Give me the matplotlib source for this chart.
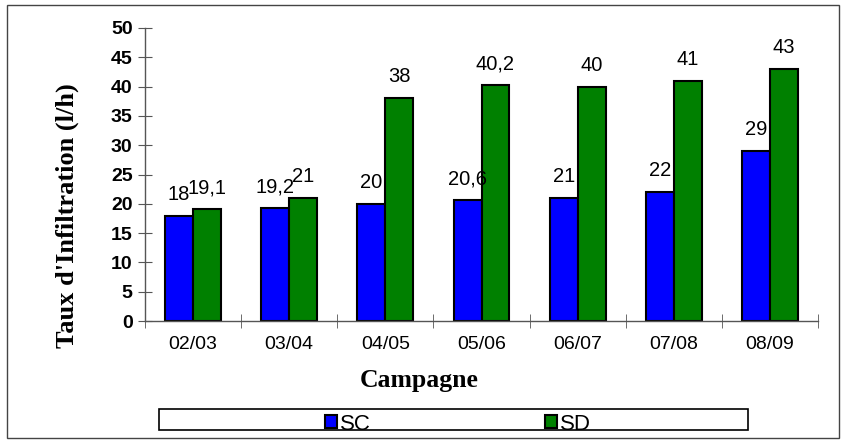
import matplotlib.pyplot as plt
import matplotlib.patches as mpatches
import numpy as np

# Data
campagnes = ["02/03", "03/04", "04/05", "05/06", "06/07", "07/08", "08/09"]
sc_values = [18, 19.2, 20, 20.6, 21, 22, 29]
sd_values = [19.1, 21, 38, 40.2, 40, 41, 43]
sc_labels = ["18", "19,2", "20", "20,6", "21", "22", "29"]
sd_labels = ["19,1", "21", "38", "40,2", "40", "41", "43"]

W, H = 846, 441
fig = plt.figure(figsize=(W / 100, H / 100), dpi=100)
ax = fig.add_axes([145 / W, 1 - 321 / H, (818 - 145) / W, (321 - 28) / H])

x = np.arange(len(campagnes))
bw = 0.29
sc_bars = ax.bar(x - bw / 2, sc_values, width=bw, color="#0000FF",
                 edgecolor="black", linewidth=1.5, label="SC")
sd_bars = ax.bar(x + bw / 2, sd_values, width=bw, color="#008000",
                 edgecolor="black", linewidth=1.5, label="SD")

# value labels above bars
for bars, labels in ((sc_bars, sc_labels), (sd_bars, sd_labels)):
    for bar, lab in zip(bars, labels):
        ax.annotate(lab, (bar.get_x() + bar.get_width() / 2, bar.get_height()),
                    xytext=(0, 11.5), textcoords="offset points",
                    ha="center", va="baseline", fontsize=14.5,
                    family="Liberation Sans")

ax.set_xlim(-0.5, len(campagnes) - 0.5)
ax.set_ylim(0, 50)
ax.set_yticks(np.arange(0, 51, 5))
ax.set_yticklabels([str(v) for v in range(0, 51, 5)],
                   fontsize=14, fontweight="bold", family="Liberation Sans")
ax.set_xticks(x)
ax.set_xticklabels(campagnes, fontsize=14, family="Liberation Sans")
ax.tick_params(axis="x", which="major", length=0, pad=11)
ax.set_xticks(np.arange(-0.5, len(campagnes), 1), minor=True)
ax.tick_params(axis="x", which="minor", direction="inout", length=10,
               color="#555555")
ax.tick_params(axis="y", direction="inout", length=10, color="#555555", pad=4)

for side in ("top", "right"):
    ax.spines[side].set_visible(False)
for side in ("left", "bottom"):
    ax.spines[side].set_color("#555555")
    ax.spines[side].set_linewidth(1)

ax.set_ylabel("Taux d'Infiltration (l/h)", fontsize=19, fontweight="bold",
              family="Liberation Serif")
ax.yaxis.label.set_va("center")
ax.yaxis.set_label_coords((67 - 145) / 673, (321 - 216) / 293)
ax.set_xlabel("Campagne", fontsize=18.5, fontweight="bold",
              family="Liberation Serif")
ax.xaxis.label.set_va("center")
ax.xaxis.set_label_coords((419 - 145) / 673, (321 - 380) / 293)

# legend box and entries
fig.patches.append(mpatches.Rectangle((159 / W, 1 - 430 / H), 589 / W, 21 / H,
                                      transform=fig.transFigure, fill=False,
                                      edgecolor="black", linewidth=1.2))
fig.legend(handles=[sc_bars, sd_bars], labels=["SC", "SD"], ncol=2,
           loc="center", bbox_to_anchor=(458 / W, 1 - 424 / H),
           frameon=False, handlelength=0.55, handleheight=0.55,
           handletextpad=0.15, columnspacing=7.8, borderpad=0,
           prop={"family": "Liberation Sans", "size": 16})

# outer border
fig.patches.append(mpatches.Rectangle((7 / W, 1 - 438 / H), 832 / W, 433 / H,
                                      transform=fig.transFigure, fill=False,
                                      edgecolor="#444444", linewidth=1))

fig.savefig("out.png", dpi=100)
